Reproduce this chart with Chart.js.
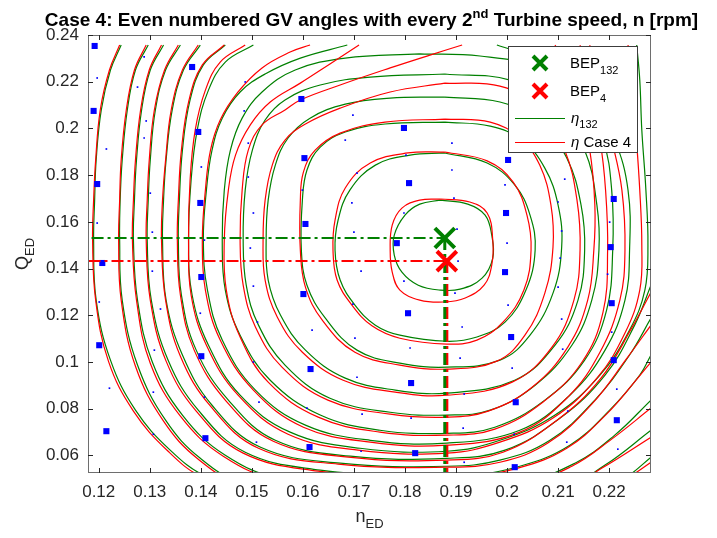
<!DOCTYPE html>
<html>
<head>
<meta charset="utf-8">
<script src="https://cdn.jsdelivr.net/npm/chart.js@4.4.1/dist/chart.umd.min.js"></script>
<style>
  html, body { margin: 0; padding: 0; background: #fff; }
  canvas { display: block; }
</style>
</head>
<body>
<canvas id="hill" width="717" height="538"></canvas>
<script>
// eixos
const xTicks = [0.12, 0.13, 0.14, 0.15, 0.16, 0.17, 0.18, 0.19, 0.2, 0.21, 0.22];
const yTicks = [0.06, 0.08, 0.1, 0.12, 0.14, 0.16, 0.18, 0.2, 0.22, 0.24];

// pontos de melhor eficiencia
const bep132 = [0.1878, 0.1531];
const bep4 = [0.1882, 0.1432];

// linhas traco-ponto ate os eixos
const bep132Guide = [[0.1186, 0.1531], [0.1878, 0.1531], [0.1878, 0.0525]];
const bep4Guide = [[0.1180, 0.1432], [0.1882, 0.1432], [0.1882, 0.0525]];

// pontos medidos (quadrados grandes)
const bigPts = [
  [0.1192, 0.2353], [0.1190, 0.2075], [0.1197, 0.1762], [0.1207, 0.1424], [0.1201, 0.1072], [0.1215, 0.0704],
  [0.1383, 0.2263], [0.1395, 0.1985], [0.1399, 0.1681], [0.1401, 0.1364], [0.1401, 0.1025], [0.1409, 0.0674],
  [0.1597, 0.2126], [0.1603, 0.1873], [0.1605, 0.1591], [0.1601, 0.1291], [0.1615, 0.0970], [0.1613, 0.0636],
  [0.1798, 0.2002], [0.1808, 0.1766], [0.1784, 0.1509], [0.1806, 0.1209], [0.1812, 0.0910], [0.1820, 0.0610],
  [0.2002, 0.1865], [0.1998, 0.1638], [0.1996, 0.1385], [0.2008, 0.1107], [0.2017, 0.0828], [0.2015, 0.0550],
  [0.2209, 0.1698], [0.2203, 0.1492], [0.2205, 0.1252], [0.2209, 0.1008], [0.2215, 0.0751]
];

// pontos pequenos
const smallPts = [
  [0.1197, 0.2216], [0.1276, 0.2177], [0.1289, 0.2306], [0.1293, 0.2032], [0.1289, 0.1959], [0.1215, 0.1912],
  [0.1301, 0.1723], [0.1305, 0.1556], [0.1197, 0.1595], [0.1401, 0.1835], [0.1407, 0.1522], [0.1487, 0.2199],
  [0.1485, 0.2075], [0.1493, 0.1937], [0.1493, 0.1792], [0.1503, 0.1638], [0.1497, 0.1488],
  [0.1305, 0.1389], [0.1321, 0.1227], [0.1201, 0.1257], [0.1309, 0.1051], [0.1221, 0.0888], [0.1307, 0.0871],
  [0.1307, 0.0691], [0.1399, 0.1209], [0.1407, 0.0850], [0.1503, 0.1325], [0.1511, 0.1171], [0.1503, 0.1000],
  [0.1514, 0.0828], [0.1509, 0.0657],
  [0.1698, 0.2057], [0.1683, 0.1950], [0.1802, 0.1886], [0.1892, 0.1937], [0.1706, 0.1809], [0.1892, 0.1822],
  [0.1599, 0.1736], [0.1696, 0.1681], [0.1798, 0.1638], [0.1896, 0.1702], [0.1700, 0.1556], [0.1902, 0.1569],
  [0.1714, 0.1389], [0.1798, 0.1346], [0.1898, 0.1295], [0.1904, 0.1432], [0.1618, 0.1137], [0.1698, 0.1248],
  [0.1702, 0.1102], [0.1810, 0.1060], [0.1912, 0.1150], [0.1908, 0.1017], [0.1608, 0.0803], [0.1706, 0.0935],
  [0.1716, 0.0777], [0.1812, 0.0760], [0.1916, 0.0863], [0.1914, 0.0717], [0.1714, 0.0618], [0.1916, 0.0571],
  [0.1996, 0.1758], [0.2113, 0.1783], [0.2100, 0.1685], [0.2107, 0.1561], [0.2201, 0.1599], [0.2104, 0.1445],
  [0.2000, 0.1509], [0.2100, 0.1321], [0.2197, 0.1376], [0.2002, 0.1244], [0.2107, 0.1184], [0.2205, 0.1128],
  [0.2010, 0.0974], [0.2109, 0.1055], [0.2215, 0.0884], [0.2119, 0.0790], [0.2014, 0.0691], [0.2117, 0.0657],
  [0.2217, 0.0627]
];

// curvas de eficiencia eta_132 (verde)
const eta132 = [
  [[0.1869,0.1693],[0.1923,0.1676],[0.1957,0.1629],[0.1970,0.1543],[0.1972,0.1445],[0.1951,0.1359],[0.1908,0.1312],[0.1869,0.1308],[0.1826,0.1329],[0.1794,0.1385],[0.1779,0.1458],[0.1779,0.1543],[0.1800,0.1629],[0.1829,0.1676],[0.1869,0.1693]],
  [[0.1878,0.1895],[0.1961,0.1852],[0.2015,0.1758],[0.2045,0.1629],[0.2055,0.1479],[0.2037,0.1308],[0.1996,0.1171],[0.1941,0.1107],[0.1882,0.1089],[0.1790,0.1115],[0.1742,0.1158],[0.1702,0.1244],[0.1673,0.1351],[0.1663,0.1479],[0.1669,0.1608],[0.1692,0.1736],[0.1742,0.1843],[0.1810,0.1886],[0.1878,0.1895]],
  [[0.1878,0.2027],[0.1967,0.2010],[0.2029,0.1950],[0.2074,0.1830],[0.2100,0.1672],[0.2107,0.1492],[0.2090,0.1295],[0.2045,0.1115],[0.1986,0.1008],[0.1882,0.0978],[0.1790,0.0995],[0.1706,0.1051],[0.1644,0.1188],[0.1608,0.1329],[0.1597,0.1479],[0.1599,0.1693],[0.1608,0.1822],[0.1634,0.1920],[0.1683,0.1985],[0.1761,0.2019],[0.1878,0.2027]],
  [[0.1878,0.2134],[0.1986,0.2113],[0.2064,0.2027],[0.2117,0.1873],[0.2145,0.1672],[0.2152,0.1479],[0.2139,0.1265],[0.2094,0.1072],[0.2015,0.0922],[0.1882,0.0867],[0.1781,0.0880],[0.1683,0.0931],[0.1605,0.1051],[0.1556,0.1201],[0.1532,0.1351],[0.1528,0.1522],[0.1532,0.1693],[0.1546,0.1843],[0.1571,0.1959],[0.1614,0.2044],[0.1683,0.2104],[0.1771,0.2130],[0.1878,0.2134]],
  [[0.1878,0.2233],[0.2006,0.2207],[0.2094,0.2100],[0.2152,0.1907],[0.2176,0.1672],[0.2180,0.1479],[0.2166,0.1265],[0.2127,0.1072],[0.2055,0.0901],[0.1967,0.0794],[0.1882,0.0773],[0.1771,0.0785],[0.1653,0.0845],[0.1565,0.0987],[0.1513,0.1158],[0.1489,0.1329],[0.1483,0.1522],[0.1487,0.1736],[0.1501,0.1907],[0.1526,0.2036],[0.1565,0.2122],[0.1634,0.2186],[0.1732,0.2220],[0.1878,0.2233]],
  [[0.1829,0.2319],[0.1947,0.2310],[0.2064,0.2259],[0.2143,0.2143],[0.2188,0.1950],[0.2205,0.1736],[0.2207,0.1479],[0.2195,0.1222],[0.2152,0.1008],[0.2074,0.0837],[0.1976,0.0721],[0.1882,0.0695],[0.1751,0.0708],[0.1634,0.0773],[0.1536,0.0922],[0.1477,0.1115],[0.1448,0.1308],[0.1442,0.1522],[0.1446,0.1736],[0.1458,0.1907],[0.1481,0.2044],[0.1520,0.2156],[0.1585,0.2250],[0.1683,0.2301],[0.1829,0.2319]],
  [[0.1687,0.2357],[0.1595,0.2301],[0.1526,0.2233],[0.1477,0.2156],[0.1442,0.2044],[0.1422,0.1907],[0.1411,0.1736],[0.1405,0.1522],[0.1413,0.1308],[0.1442,0.1094],[0.1507,0.0880],[0.1605,0.0730],[0.1732,0.0665],[0.1882,0.0653],[0.2025,0.0708],[0.2123,0.0858],[0.2192,0.1051],[0.2231,0.1265],[0.2240,0.1479],[0.2237,0.1736],[0.2211,0.1950],[0.2162,0.2143],[0.2074,0.2284],[0.1980,0.2357]],
  [[0.1503,0.2357],[0.1448,0.2284],[0.1415,0.2164],[0.1393,0.1993],[0.1381,0.1779],[0.1376,0.1522],[0.1383,0.1287],[0.1415,0.1072],[0.1477,0.0858],[0.1575,0.0700],[0.1712,0.0631],[0.1882,0.0618],[0.1986,0.0665],[0.2094,0.0773],[0.2182,0.0944],[0.2240,0.1137],[0.2270,0.1308],[0.2276,0.1501],[0.2272,0.1736],[0.2264,0.1993],[0.2260,0.2207],[0.2254,0.2357]],
  [[0.1448,0.2357],[0.1405,0.2272],[0.1379,0.2122],[0.1364,0.1907],[0.1358,0.1693],[0.1356,0.1522],[0.1362,0.1287],[0.1391,0.1051],[0.1454,0.0837],[0.1546,0.0665],[0.1693,0.0597],[0.1882,0.0588],[0.1996,0.0623],[0.2104,0.0760],[0.2192,0.0944],[0.2250,0.1158],[0.2282,0.1329]],
  [[0.1399,0.2357],[0.1366,0.2250],[0.1344,0.2079],[0.1332,0.1865],[0.1327,0.1693],[0.1325,0.1522],[0.1332,0.1265],[0.1364,0.1030],[0.1422,0.0815],[0.1516,0.0636],[0.1673,0.0567],[0.1882,0.0554],[0.1986,0.0580],[0.2084,0.0665],[0.2172,0.0837],[0.2240,0.1030],[0.2282,0.1188]],
  [[0.1360,0.2357],[0.1331,0.2250],[0.1311,0.2079],[0.1301,0.1865],[0.1297,0.1693],[0.1295,0.1522],[0.1303,0.1265],[0.1336,0.1008],[0.1395,0.0794],[0.1487,0.0614],[0.1634,0.0537],[0.1790,0.0516],[0.1908,0.0511],[0.2025,0.0554],[0.2123,0.0644],[0.2201,0.0794],[0.2260,0.0944],[0.2282,0.1030]],
  [[0.1327,0.2357],[0.1301,0.2250],[0.1284,0.2079],[0.1274,0.1865],[0.1270,0.1693],[0.1268,0.1522],[0.1276,0.1265],[0.1305,0.1000],[0.1364,0.0773],[0.1448,0.0601],[0.1556,0.0503],[0.1790,0.0468],[0.2025,0.0485],[0.2133,0.0567],[0.2211,0.0687],[0.2282,0.0837]],
  [[0.1297,0.2357],[0.1272,0.2250],[0.1256,0.2079],[0.1246,0.1865],[0.1242,0.1693],[0.1241,0.1522],[0.1246,0.1265],[0.1276,0.0987],[0.1331,0.0751],[0.1399,0.0588],[0.1477,0.0494],[0.1790,0.0430],[0.2104,0.0460],[0.2192,0.0559],[0.2282,0.0708]],
  [[0.1244,0.2357],[0.1223,0.2250],[0.1205,0.2079],[0.1195,0.1865],[0.1192,0.1693],[0.1190,0.1522],[0.1195,0.1265],[0.1223,0.1008],[0.1272,0.0794],[0.1340,0.0623],[0.1409,0.0511],[0.1516,0.0430],[0.2182,0.0430],[0.2240,0.0516],[0.2282,0.0593]]
];

// curvas de eficiencia do caso 4 (vermelho)
const eta4 = [
  [[0.1869,0.1698],[0.1927,0.1685],[0.1961,0.1638],[0.1972,0.1522],[0.1970,0.1415],[0.1955,0.1329],[0.1918,0.1274],[0.1878,0.1257],[0.1829,0.1265],[0.1790,0.1308],[0.1775,0.1385],[0.1771,0.1479],[0.1775,0.1586],[0.1794,0.1659],[0.1829,0.1693],[0.1869,0.1698]],
  [[0.1878,0.1899],[0.1961,0.1861],[0.2012,0.1770],[0.2039,0.1629],[0.2047,0.1479],[0.2033,0.1308],[0.1992,0.1171],[0.1941,0.1094],[0.1882,0.1077],[0.1790,0.1102],[0.1736,0.1154],[0.1696,0.1244],[0.1667,0.1351],[0.1659,0.1479],[0.1663,0.1608],[0.1683,0.1745],[0.1732,0.1852],[0.1806,0.1895],[0.1878,0.1899]],
  [[0.1878,0.2040],[0.1967,0.2027],[0.2025,0.1959],[0.2064,0.1843],[0.2086,0.1672],[0.2090,0.1492],[0.2074,0.1295],[0.2035,0.1115],[0.1980,0.1004],[0.1882,0.0970],[0.1790,0.0987],[0.1702,0.1042],[0.1638,0.1179],[0.1605,0.1321],[0.1595,0.1479],[0.1595,0.1693],[0.1601,0.1813],[0.1624,0.1907],[0.1673,0.1980],[0.1761,0.2027],[0.1878,0.2040]],
  [[0.1878,0.2194],[0.1986,0.2181],[0.2064,0.2087],[0.2113,0.1907],[0.2137,0.1693],[0.2143,0.1479],[0.2131,0.1265],[0.2088,0.1064],[0.2010,0.0914],[0.1882,0.0858],[0.1781,0.0871],[0.1679,0.0922],[0.1599,0.1042],[0.1550,0.1192],[0.1526,0.1351],[0.1522,0.1522],[0.1526,0.1693],[0.1540,0.1843],[0.1565,0.1950],[0.1605,0.2019],[0.1673,0.2087],[0.1771,0.2156],[0.1878,0.2194]],
  [[0.1912,0.2357],[0.1849,0.2314],[0.1771,0.2259],[0.1673,0.2186],[0.1595,0.2122],[0.1565,0.2079],[0.1520,0.2015],[0.1493,0.1907],[0.1481,0.1736],[0.1477,0.1522],[0.1483,0.1329],[0.1507,0.1150],[0.1559,0.0978],[0.1649,0.0837],[0.1771,0.0777],[0.1882,0.0764],[0.1963,0.0790],[0.2049,0.0892],[0.2119,0.1064],[0.2158,0.1265],[0.2170,0.1479],[0.2172,0.1672],[0.2162,0.1907],[0.2139,0.2122],[0.2113,0.2276],[0.2094,0.2357]],
  [[0.1710,0.2357],[0.1653,0.2276],[0.1595,0.2194],[0.1536,0.2113],[0.1497,0.2015],[0.1468,0.1886],[0.1454,0.1736],[0.1446,0.1522],[0.1450,0.1308],[0.1477,0.1107],[0.1532,0.0914],[0.1630,0.0764],[0.1751,0.0700],[0.1882,0.0687],[0.1976,0.0713],[0.2070,0.0828],[0.2147,0.1000],[0.2188,0.1214],[0.2197,0.1479],[0.2193,0.1736],[0.2182,0.1950],[0.2162,0.2143],[0.2143,0.2357]],
  [[0.1614,0.2357],[0.1575,0.2327],[0.1520,0.2259],[0.1473,0.2156],[0.1438,0.2036],[0.1419,0.1907],[0.1409,0.1736],[0.1403,0.1522],[0.1409,0.1308],[0.1438,0.1094],[0.1503,0.0880],[0.1601,0.0721],[0.1732,0.0657],[0.1882,0.0644],[0.2025,0.0700],[0.2119,0.0850],[0.2182,0.1042],[0.2221,0.1265],[0.2231,0.1479],[0.2225,0.1736],[0.2205,0.1950],[0.2182,0.2143],[0.2162,0.2357]],
  [[0.1487,0.2357],[0.1438,0.2284],[0.1409,0.2164],[0.1389,0.1993],[0.1379,0.1779],[0.1376,0.1522],[0.1381,0.1287],[0.1411,0.1072],[0.1473,0.0858],[0.1571,0.0691],[0.1708,0.0623],[0.1882,0.0610],[0.1986,0.0657],[0.2090,0.0760],[0.2176,0.0931],[0.2231,0.1124],[0.2260,0.1308],[0.2264,0.1501],[0.2260,0.1736],[0.2252,0.1993],[0.2244,0.2207],[0.2237,0.2357]],
  [[0.1446,0.2357],[0.1403,0.2272],[0.1377,0.2122],[0.1362,0.1907],[0.1356,0.1693],[0.1354,0.1522],[0.1360,0.1287],[0.1387,0.1051],[0.1450,0.0832],[0.1542,0.0661],[0.1689,0.0593],[0.1882,0.0580],[0.1992,0.0614],[0.2098,0.0751],[0.2184,0.0931],[0.2244,0.1145],[0.2282,0.1299]],
  [[0.1395,0.2357],[0.1364,0.2250],[0.1342,0.2079],[0.1331,0.1865],[0.1325,0.1693],[0.1323,0.1522],[0.1331,0.1265],[0.1360,0.1025],[0.1419,0.0811],[0.1513,0.0631],[0.1669,0.0563],[0.1882,0.0550],[0.1986,0.0571],[0.2080,0.0653],[0.2166,0.0820],[0.2235,0.1017],[0.2282,0.1158]],
  [[0.1356,0.2357],[0.1329,0.2250],[0.1309,0.2079],[0.1299,0.1865],[0.1295,0.1693],[0.1293,0.1522],[0.1301,0.1265],[0.1332,0.1004],[0.1391,0.0790],[0.1483,0.0610],[0.1630,0.0533],[0.1790,0.0511],[0.1908,0.0507],[0.2021,0.0546],[0.2117,0.0631],[0.2195,0.0777],[0.2256,0.0931],[0.2282,0.1000]],
  [[0.1323,0.2357],[0.1299,0.2250],[0.1282,0.2079],[0.1272,0.1865],[0.1268,0.1693],[0.1266,0.1522],[0.1274,0.1265],[0.1301,0.0995],[0.1360,0.0768],[0.1444,0.0597],[0.1552,0.0498],[0.1790,0.0464],[0.2025,0.0477],[0.2127,0.0554],[0.2205,0.0670],[0.2282,0.0803]],
  [[0.1293,0.2357],[0.1270,0.2250],[0.1254,0.2079],[0.1244,0.1865],[0.1241,0.1693],[0.1239,0.1522],[0.1244,0.1265],[0.1272,0.0982],[0.1327,0.0747],[0.1395,0.0584],[0.1473,0.0490],[0.1790,0.0426],[0.2104,0.0451],[0.2186,0.0546],[0.2282,0.0678]],
  [[0.1241,0.2357],[0.1221,0.2250],[0.1203,0.2079],[0.1194,0.1865],[0.1190,0.1693],[0.1188,0.1522],[0.1194,0.1265],[0.1219,0.1004],[0.1268,0.0790],[0.1336,0.0618],[0.1403,0.0507],[0.1516,0.0426],[0.2182,0.0421],[0.2237,0.0503],[0.2282,0.0571]]
];

const GREEN = '#008000';
const RED = '#ff0000';
const BLUE = '#0000ff';
const FONT = '"Liberation Sans", Arial, Helvetica, sans-serif';

Chart.defaults.font.family = FONT;

let datasets = [];

datasets.push({ data: [bep132], showLine: false, pointStyle: 'crossRot', pointRadius: 14, borderColor: GREEN, borderWidth: 4, order: 0 });
datasets.push({ data: [bep4], showLine: false, pointStyle: 'crossRot', pointRadius: 14, borderColor: RED, borderWidth: 4, order: 0 });

// traco horizontal mais fino, vertical mais grosso
datasets.push({ data: bep132Guide.slice(0, 2), showLine: true, pointRadius: 0, borderColor: GREEN, borderWidth: 2, borderDash: [12, 4, 3, 4], tension: 0, order: 1 });
datasets.push({ data: bep132Guide.slice(1), showLine: true, pointRadius: 0, borderColor: GREEN, borderWidth: 3, borderDash: [12, 4, 3, 4], tension: 0, order: 1 });
datasets.push({ data: bep4Guide.slice(0, 2), showLine: true, pointRadius: 0, borderColor: RED, borderWidth: 2, borderDash: [12, 4, 3, 4], tension: 0, order: 1 });
datasets.push({ data: bep4Guide.slice(1), showLine: true, pointRadius: 0, borderColor: RED, borderWidth: 3, borderDash: [12, 4, 3, 4], tension: 0, order: 1 });

datasets.push({ data: bigPts, showLine: false, pointStyle: 'rect', pointRadius: 4.3, backgroundColor: BLUE, borderColor: BLUE, borderWidth: 0, order: 2 });
datasets.push({ data: smallPts, showLine: false, pointStyle: 'rect', pointRadius: 1.2, backgroundColor: BLUE, borderColor: BLUE, borderWidth: 0, order: 2 });

eta4.forEach(function(c) {
    datasets.push({ data: c, showLine: true, pointRadius: 0, borderColor: RED, borderWidth: 1.2, tension: 0.4, fill: false, order: 3 });
});
eta132.forEach(function(c) {
    datasets.push({ data: c, showLine: true, pointRadius: 0, borderColor: GREEN, borderWidth: 1.2, tension: 0.4, fill: false, order: 4 });
});

function fmt(v) {
    return String(parseFloat(v.toFixed(2)));
}

// texto com subscrito / sobrescrito
function drawParts(ctx, parts, x, y) {
    let cx = x;
    parts.forEach(function(p) {
        ctx.font = p.font;
        ctx.fillText(p.text, cx, y + (p.dy || 0));
        cx += ctx.measureText(p.text).width;
    });
    return cx;
}
function partsWidth(ctx, parts) {
    let w = 0;
    parts.forEach(function(p) { ctx.font = p.font; w += ctx.measureText(p.text).width; });
    return w;
}

const decor = {
    id: 'decor',
    afterDraw(chart) {
        const ctx = chart.ctx;
        const a = chart.chartArea;
        const xs = chart.scales.x, ys = chart.scales.y;
        ctx.save();

        // moldura e marcas para dentro
        ctx.strokeStyle = '#6e6e6e';
        ctx.lineWidth = 1;
        ctx.strokeRect(a.left + 0.5, a.top + 0.5, a.right - a.left - 1, a.bottom - a.top - 1);
        ctx.strokeStyle = '#262626';
        ctx.beginPath();
        xTicks.forEach(function(v) {
            const px = Math.round(xs.getPixelForValue(v)) + 0.5;
            ctx.moveTo(px, a.bottom); ctx.lineTo(px, a.bottom - 5);
            ctx.moveTo(px, a.top); ctx.lineTo(px, a.top + 5);
        });
        yTicks.forEach(function(v) {
            const py = Math.round(ys.getPixelForValue(v)) + 0.5;
            ctx.moveTo(a.left, py); ctx.lineTo(a.left + 5, py);
            ctx.moveTo(a.right, py); ctx.lineTo(a.right - 5, py);
        });
        ctx.stroke();

        ctx.fillStyle = '#000';
        ctx.textBaseline = 'alphabetic';
        ctx.textAlign = 'left';

        // titulo
        const tParts = [
            { text: 'Case 4: Even numbered GV angles with every 2', font: 'bold 19px ' + FONT },
            { text: 'nd', font: 'bold 13px ' + FONT, dy: -8 },
            { text: ' Turbine speed, n [rpm]', font: 'bold 19px ' + FONT }
        ];
        const tw = partsWidth(ctx, tParts);
        drawParts(ctx, tParts, (a.left + a.right) / 2 + 2 - tw / 2, 26);

        // rotulos dos eixos
        ctx.fillStyle = '#262626';
        const nParts = [
            { text: 'n', font: '18px ' + FONT },
            { text: 'ED', font: '13px ' + FONT, dy: 6 }
        ];
        const nw = partsWidth(ctx, nParts);
        drawParts(ctx, nParts, (a.left + a.right) / 2 - nw / 2, 522);

        const qParts = [
            { text: 'Q', font: '18px ' + FONT },
            { text: 'ED', font: '13px ' + FONT, dy: 6 }
        ];
        const qw = partsWidth(ctx, qParts);
        ctx.save();
        ctx.translate(28, (a.top + a.bottom) / 2);
        ctx.rotate(-Math.PI / 2);
        drawParts(ctx, qParts, -qw / 2, 0);
        ctx.restore();

        // legenda
        const L = { x: 508, y: 46, w: 129, h: 106 };
        ctx.fillStyle = '#fff';
        ctx.fillRect(L.x, L.y, L.w, L.h);
        ctx.strokeStyle = '#3c3c3c';
        ctx.strokeRect(L.x + 0.5, L.y + 0.5, L.w, L.h);

        function cross(cx, cy, col) {
            ctx.strokeStyle = col;
            ctx.lineWidth = 4;
            ctx.beginPath();
            ctx.moveTo(cx - 7, cy - 7); ctx.lineTo(cx + 7, cy + 7);
            ctx.moveTo(cx - 7, cy + 7); ctx.lineTo(cx + 7, cy - 7);
            ctx.stroke();
        }
        cross(540, 63, GREEN);
        cross(540, 91, RED);
        ctx.lineWidth = 1.2;
        ctx.strokeStyle = GREEN;
        ctx.beginPath(); ctx.moveTo(515, 118.5); ctx.lineTo(565, 118.5); ctx.stroke();
        ctx.strokeStyle = RED;
        ctx.beginPath(); ctx.moveTo(515, 142.5); ctx.lineTo(565, 142.5); ctx.stroke();

        ctx.fillStyle = '#000';
        drawParts(ctx, [
            { text: 'BEP', font: '15px ' + FONT },
            { text: '132', font: '11px ' + FONT, dy: 6 }
        ], 570, 68);
        drawParts(ctx, [
            { text: 'BEP', font: '15px ' + FONT },
            { text: '4', font: '11px ' + FONT, dy: 6 }
        ], 570, 96);
        drawParts(ctx, [
            { text: '\u03b7', font: 'italic 15px ' + FONT },
            { text: '132', font: '11px ' + FONT, dy: 5 }
        ], 571, 123);
        drawParts(ctx, [
            { text: '\u03b7', font: 'italic 15px ' + FONT },
            { text: ' Case 4', font: '15px ' + FONT }
        ], 571, 147);

        ctx.restore();
    }
};

new Chart(document.getElementById('hill'), {
    type: 'scatter',
    data: { datasets: datasets },
    options: {
        responsive: false,
        animation: false,
        events: [],
        layout: { padding: { left: 0, right: 66, top: 35, bottom: 0 } },
        plugins: {
            legend: { display: false },
            title: { display: false },
            tooltip: { enabled: false }
        },
        scales: {
            x: {
                type: 'linear',
                min: 0.1179,
                max: 0.2282,
                grid: { display: false, drawTicks: false },
                border: { display: false },
                afterBuildTicks: function(scale) {
                    scale.ticks = xTicks.map(function(v) { return { value: v }; });
                },
                afterFit: function(scale) { scale.height = 65; },
                ticks: {
                    padding: 9,
                    color: '#262626',
                    font: { size: 17 },
                    maxRotation: 0,
                    autoSkip: false,
                    callback: function(v) { return fmt(v); }
                }
            },
            y: {
                type: 'linear',
                min: 0.0525,
                max: 0.24,
                grid: { display: false, drawTicks: false },
                border: { display: false },
                afterBuildTicks: function(scale) {
                    scale.ticks = yTicks.map(function(v) { return { value: v }; });
                },
                afterFit: function(scale) { scale.width = 88; },
                ticks: {
                    padding: 9,
                    color: '#262626',
                    font: { size: 17 },
                    autoSkip: false,
                    callback: function(v) { return fmt(v); }
                }
            }
        }
    },
    plugins: [decor]
});
</script>
</body>
</html>
